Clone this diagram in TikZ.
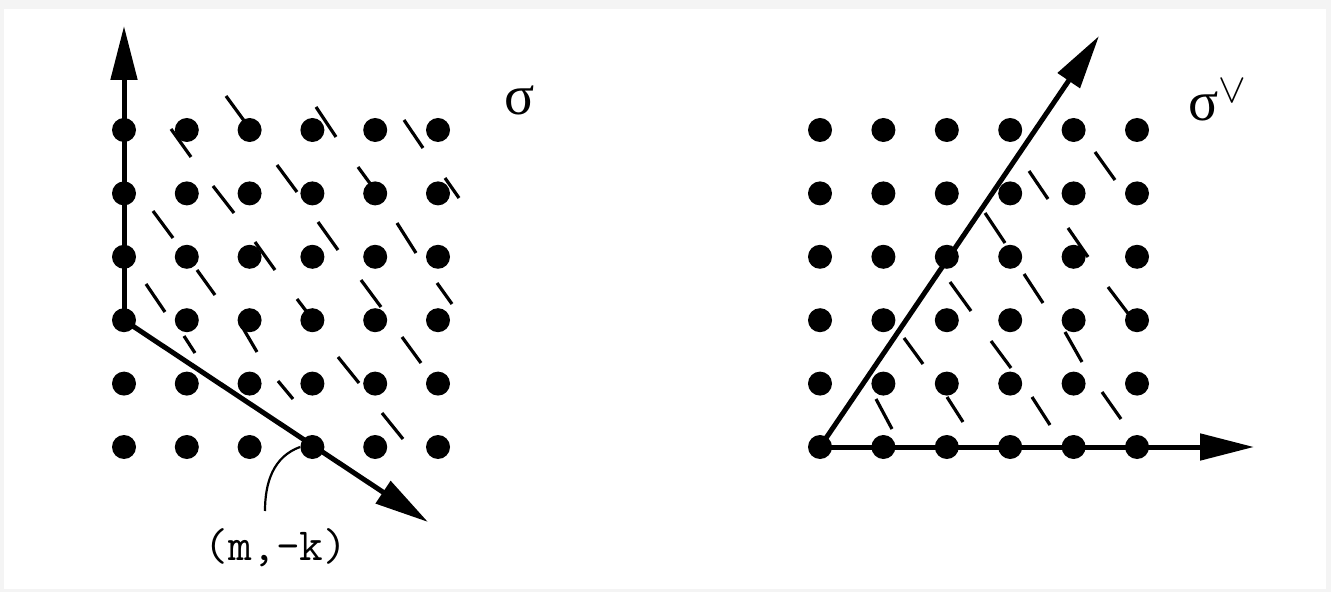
\documentclass[tikz,border=0pt]{standalone}
\usepackage{amsmath,amssymb}
\usepackage{fontspec}
\usepackage{xcolor}
\usepackage{tikz}
\usetikzlibrary{arrows.meta}
\definecolor{frame}{HTML}{F4F4F4}
\newfontfamily\sigfont{Liberation Serif}

\begin{document}
\begin{tikzpicture}[
    x=0.5pt, y=-0.5pt,
    dot/.style={circle, fill=black, inner sep=0pt, minimum size=12pt},
    vec/.style={-{Triangle[length=27pt, width=13pt]}, line width=2.5pt},
    hatch/.style={line width=1.6pt},
    lead/.style={line width=1.1pt},
    lbl/.style={inner sep=0pt},
  ]
  \fill[frame] (0,0) rectangle (1331,592);
  \fill[white] (4,9) rectangle (1326,589);
  \useasboundingbox (0,0) rectangle (1331,592);

  % hatching of the cone sigma
  \foreach \ax/\ay/\bx/\by in {171/129/191/157, 226/96/245/122, 316/107/336/137,
      404/120/423/148, 213/186/234/213, 277/165/297/192, 358/167/377/193,
      445/178/459/198, 153/211/173/238, 318/222/338/250, 397/223/416/253,
      255/242/275/270, 197/270/215/295, 146/284/165/312, 361/280/381/307,
      437/283/452/304, 297/299/313/320, 184/336/195/353, 240/323/257/352,
      402/337/421/363, 338/357/359/383, 278/381/293/399, 382/413/403/439}
    \draw[hatch] (\ax,\ay) -- (\bx,\by);

  % hatching of the dual cone
  \foreach \ax/\ay/\bx/\by in {1095/152/1115/180, 1029/171/1048/199,
      985/213/1005/243, 1068/228/1088/257, 950/282/971/311, 1024/274/1043/303,
      1108/287/1133/320, 904/338/923/364, 991/341/1011/368, 1065/332/1082/362,
      876/399/892/429, 947/397/963/422, 1032/397/1050/425, 1102/392/1121/419}
    \draw[hatch] (\ax,\ay) -- (\bx,\by);

  \foreach \i in {0,...,5}
    \foreach \j in {0,...,5} {
      \node[dot] (l-\i-\j) at ({124+62.8*\i},{447-63.4*\j}) {};
      \node[dot] (r-\i-\j) at ({820+63.4*\i},{447-63.4*\j}) {};
    }

  \coordinate (l-up)   at (124,26);
  \coordinate (l-diag) at (428,522);
  \coordinate (r-east) at (1254,447);
  \coordinate (r-diag) at (1099,36);

  \draw[vec] (l-0-2.center) -- (l-up);
  \draw[vec] (l-0-2.center) -- (l-diag);
  \draw[vec] (r-0-0.center) -- (r-east);
  \draw[vec] (r-0-0.center) -- (r-diag);

  \node[lbl, font=\fontsize{23}{27}\selectfont\ttfamily] (mk) at (276,548) {(m,-k)};
  \coordinate (mk-foot) at (265,511);
  \draw[lead] (mk-foot) to[out=90, in=200] (l-3-0.west);

  \node[lbl, font=\fontsize{28}{32}\selectfont\sigfont] (sig) at (520,100) {σ};
  \node[lbl, font=\fontsize{28}{32}\selectfont\sigfont] (sigdual) at (1218,100) {σ$^{\vee}$};
\end{tikzpicture}
\end{document}
